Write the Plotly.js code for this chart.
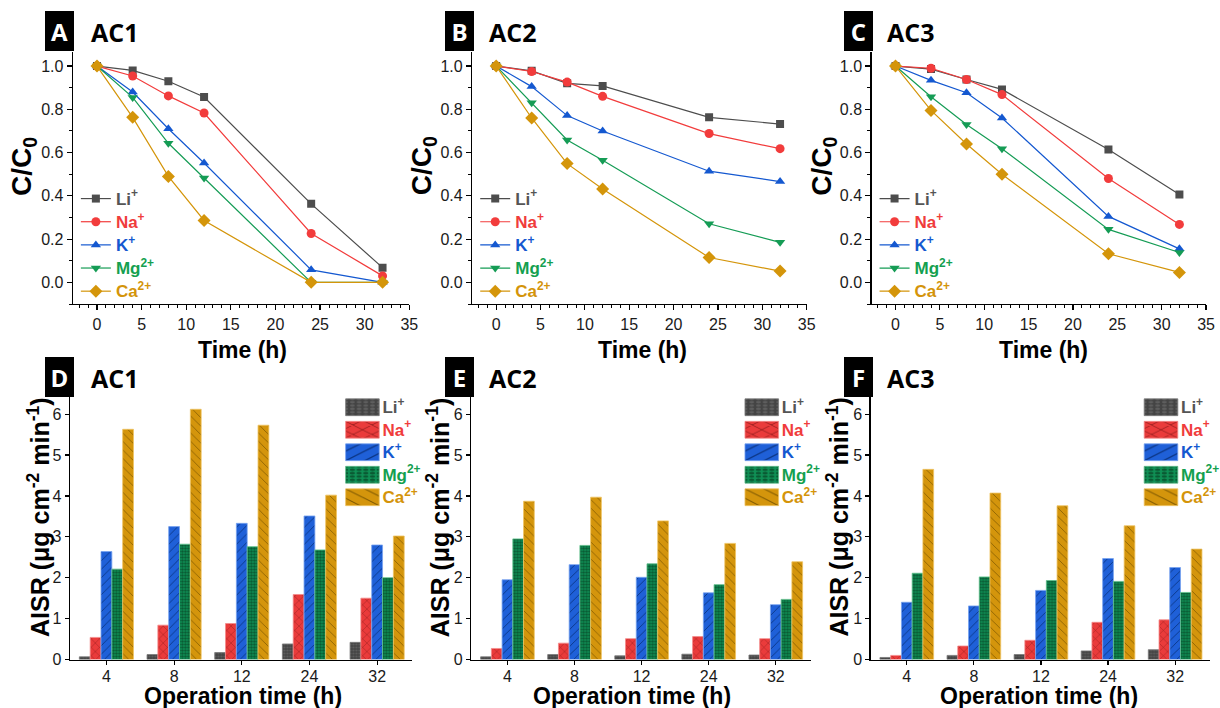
<!DOCTYPE html>
<html>
<head>
<meta charset="utf-8">
<script src="https://cdn.plot.ly/plotly-3.0.1.min.js"></script>
<style>
html,body{margin:0;padding:0;background:#fff}
#chart{width:1220px;height:708px}
#chart text.legendtext, #chart text.legend2text, #chart text.legend3text { font-size: 17px !important; }
#chart text.legend4text, #chart text.legend5text, #chart text.legend6text { font-size: 17px !important; }
</style>
</head>
<body>
<div id="chart"></div>
<script>
// ---- data ----
const timeH = [0, 4, 8, 12, 24, 32];
const opTimes = ['4', '8', '12', '24', '32'];
const ionNames = ['Li<sup>+</sup>', 'Na<sup>+</sup>', 'K<sup>+</sup>', 'Mg<sup>2+</sup>', 'Ca<sup>2+</sup>'];
const panelNames = ['AC1', 'AC2', 'AC3'];

// C/C0 vs time, rows: Li, Na, K, Mg, Ca
const ratioAC1 = [
  [1.0, 0.98, 0.93, 0.857, 0.363, 0.068],
  [1.0, 0.954, 0.862, 0.783, 0.226, 0.03],
  [1.0, 0.88, 0.71, 0.552, 0.058, 0.0],
  [1.0, 0.855, 0.643, 0.482, 0.0, 0.0],
  [1.0, 0.763, 0.49, 0.286, 0.0, 0.0]
];
const ratioAC2 = [
  [1.0, 0.978, 0.92, 0.908, 0.763, 0.732],
  [1.0, 0.975, 0.926, 0.86, 0.688, 0.618],
  [1.0, 0.905, 0.771, 0.70, 0.514, 0.466],
  [1.0, 0.83, 0.658, 0.565, 0.271, 0.185],
  [1.0, 0.76, 0.549, 0.432, 0.115, 0.052]
];
const ratioAC3 = [
  [1.0, 0.986, 0.938, 0.892, 0.614, 0.406],
  [1.0, 0.99, 0.938, 0.868, 0.48, 0.268],
  [1.0, 0.934, 0.877, 0.76, 0.305, 0.155],
  [1.0, 0.858, 0.73, 0.618, 0.245, 0.138],
  [1.0, 0.795, 0.64, 0.50, 0.132, 0.046]
];
// AISR (ug cm-2 min-1) at operation times 4, 8, 12, 24, 32 h
const aisrAC1 = [
  [0.065, 0.12, 0.17, 0.38, 0.42],
  [0.54, 0.84, 0.88, 1.59, 1.50],
  [2.64, 3.25, 3.33, 3.51, 2.80],
  [2.21, 2.82, 2.76, 2.68, 2.00],
  [5.63, 6.12, 5.73, 4.02, 3.02]
];
const aisrAC2 = [
  [0.065, 0.12, 0.09, 0.13, 0.11],
  [0.27, 0.40, 0.51, 0.56, 0.51],
  [1.95, 2.32, 2.01, 1.63, 1.34],
  [2.95, 2.79, 2.34, 1.83, 1.47],
  [3.87, 3.97, 3.39, 2.84, 2.39]
];
const aisrAC3 = [
  [0.05, 0.10, 0.12, 0.21, 0.24],
  [0.10, 0.33, 0.47, 0.91, 0.97],
  [1.40, 1.31, 1.69, 2.47, 2.25],
  [2.11, 2.02, 1.93, 1.91, 1.64],
  [4.65, 4.07, 3.76, 3.27, 2.70]
];

// ---- styles ----
const lineColors = ['#4d4d4d', '#f23c3c', '#1458d0', '#159c55', '#d4950a'];
const textColors = ['#555555', '#f03c3c', '#1458d0', '#14a050', '#d4940a'];
const symbols = ['square', 'circle', 'triangle-up', 'triangle-down', 'diamond'];
const symSizes = [8, 9, 9, 9, 10];
const barBg = ['#444444', '#ea3b3b', '#1f60d8', '#0f9055', '#d4950c'];
const barFg = ['#5e5e5e', '#9a1f1f', '#0b3585', '#0a5a33', '#7a5500'];
const barShape = ['.', 'x', '/', '.', '\\'];
const barPSize = [3, 6, 6, 3, 6];
const barSolid = [0.4, 0.15, 0.15, 0.5, 0.12];
const barEdge = ['#777777', '#f58a8a', '#76a2f0', '#5fc08c', '#f0c462'];

const W = 1220, H = 708;
const px = v => v / W;
const py = v => 1 - v / H;
const FONT = 'Liberation Sans, Arial, sans-serif';

const ratioSets = [ratioAC1, ratioAC2, ratioAC3];
const aisrSets = [aisrAC1, aisrAC2, aisrAC3];
const legendName = i => '<b><span style="color:' + textColors[i] + '">' + ionNames[i] + '</span></b>';

const traces = [];
ratioSets.forEach((set, p) => {
  set.forEach((vals, i) => {
    traces.push({
      type: 'scatter', mode: 'lines+markers', x: timeH, y: vals,
      name: legendName(i),
      xaxis: 'x' + (p === 0 ? '' : p + 1), yaxis: 'y' + (p === 0 ? '' : p + 1),
      legend: p === 0 ? 'legend' : 'legend' + (p + 1),
      line: {color: lineColors[i], width: 1.2},
      marker: {color: lineColors[i], symbol: symbols[i], size: symSizes[i], line: {width: 0}}
    });
  });
});
aisrSets.forEach((set, p) => {
  set.forEach((vals, i) => {
    traces.push({
      type: 'bar', x: opTimes, y: vals,
      name: legendName(i),
      xaxis: 'x' + (p + 4), yaxis: 'y' + (p + 4),
      legend: 'legend' + (p + 4),
      marker: {
        color: barBg[i],
        line: {color: barEdge[i], width: 0.8},
        pattern: {shape: barShape[i], fgcolor: barFg[i], bgcolor: barBg[i], size: barPSize[i], solidity: barSolid[i], fillmode: 'replace'}
      }
    });
  });
});

const tickFont = {family: FONT, size: 16, color: '#1a1a1a'};
const baseAxis = {
  showline: true, linecolor: '#000', linewidth: 1.3, showgrid: false, zeroline: false,
  ticks: 'outside', tickcolor: '#000', tickwidth: 1.2, tickfont: tickFont, fixedrange: true
};
const lineX = [[73, 410], [473, 808], [873, 1208]];
const barX = [[70, 413], [472, 812], [872, 1212]];

const layout = {
  width: W, height: H, margin: {l: 0, r: 0, t: 0, b: 0},
  paper_bgcolor: '#fff', plot_bgcolor: 'rgba(0,0,0,0)',
  barmode: 'group', bargap: 0.2, bargroupgap: 0,
  annotations: [], font: {family: FONT}
};
for (let p = 0; p < 3; p++) {
  const s = p === 0 ? '' : String(p + 1);
  layout['xaxis' + s] = Object.assign({}, baseAxis, {
    domain: [px(lineX[p][0]), px(lineX[p][1])], range: [-2.7, 35], anchor: 'y' + s,
    tick0: 0, dtick: 5, ticklen: 5,
    minor: {ticks: 'outside', dtick: 1, tick0: 0, ticklen: 3, tickcolor: '#000', tickwidth: 1, showgrid: false}
  });
  layout['yaxis' + s] = Object.assign({}, baseAxis, {
    domain: [py(304), py(52)], range: [-0.1, 1.065], anchor: 'x' + s,
    tick0: 0, dtick: 0.2, tickformat: '.1f', ticklen: 5,
    minor: {ticks: 'outside', dtick: 0.1, tick0: 0, ticklen: 3, tickcolor: '#000', tickwidth: 1, showgrid: false}
  });
  const b = String(p + 4);
  layout['xaxis' + b] = Object.assign({}, baseAxis, {
    domain: [px(barX[p][0]), px(barX[p][1])], type: 'category', anchor: 'y' + b,
    range: [-0.54, 4.52], ticklen: 4, ticklabelstandoff: -2
  });
  layout['yaxis' + b] = Object.assign({}, baseAxis, {
    domain: [py(659.5), py(397)], range: [0, 6.42], anchor: 'x' + b,
    tick0: 0, dtick: 1, ticklen: 4
  });
  // legends
  layout[p === 0 ? 'legend' : 'legend' + (p + 1)] = {
    x: px([76, 476, 876][p]), y: py(182), xanchor: 'left', yanchor: 'top',
    bgcolor: 'rgba(0,0,0,0)', borderwidth: 0, font: {family: FONT, size: 15.5, color: '#000'},
    traceorder: 'normal'
  };
  layout['legend' + b] = {
    x: px([343, 743, 1143][p]), y: py(391), xanchor: 'left', yanchor: 'top',
    bgcolor: 'rgba(0,0,0,0)', borderwidth: 0, font: {family: FONT, size: 15, color: '#000'},
    traceorder: 'normal'
  };
}

const letters = ['A', 'B', 'C', 'D', 'E', 'F'];
const boxCX = [60, 460, 860];
const titleX = [89, 488, 886];
function addText(text, x, y, size, opts) {
  layout.annotations.push(Object.assign({
    xref: 'paper', yref: 'paper', x: px(x), y: py(y), text: text, showarrow: false,
    font: {family: FONT, size: size, color: '#000'}
  }, opts || {}));
}
for (let p = 0; p < 3; p++) {
  [[31.5, 0], [377, 3]].forEach(([cy, off]) => {
    layout.annotations.push({
      xref: 'paper', yref: 'paper', x: px(boxCX[p]), y: py(cy), xanchor: 'center', yanchor: 'middle',
      text: '<b>' + letters[p + off] + '</b>', showarrow: false, bgcolor: '#000', borderpad: 0, borderwidth: 0,
      width: 29, height: 40, font: {family: 'Open Sans, sans-serif', size: 24, color: '#fff'}
    });
    addText('<b>' + panelNames[p] + '</b>', titleX[p], cy + 1, 25,
      {xanchor: 'left', yanchor: 'middle', font: {family: 'Open Sans, sans-serif', size: 25, color: '#000'}});
  });
  addText('<b>C/C<sub>0</sub></b>', [23, 424, 824][p], 166, 28, {xanchor: 'center', yanchor: 'middle', textangle: -90});
  addText('<b>Time (h)</b>', [243, 644, 1045][p], 350, 23, {xanchor: 'center', yanchor: 'middle'});
  addText('<b>AISR (μg cm<sup>-2</sup> min<sup>-1</sup>)</b>', [39, 439, 839][p], 517, 25, {xanchor: 'center', yanchor: 'middle', textangle: -90});
  addText('<b>Operation time (h)</b>', [243, 633, 1041][p], 696, 23, {xanchor: 'center', yanchor: 'middle'});
}

Plotly.newPlot('chart', traces, layout, {staticPlot: true, displayModeBar: false}).then(gd => {
  ['legend4', 'legend5', 'legend6'].forEach(id => {
    gd.querySelectorAll('g.' + id + ' .legendpoints path').forEach(p => {
      const t = p.getAttribute('transform') || '';
      p.setAttribute('transform', t + ' scale(2.8,1.4)');
      p.setAttribute('vector-effect', 'non-scaling-stroke');
    });
  });
});
</script>
</body>
</html>
